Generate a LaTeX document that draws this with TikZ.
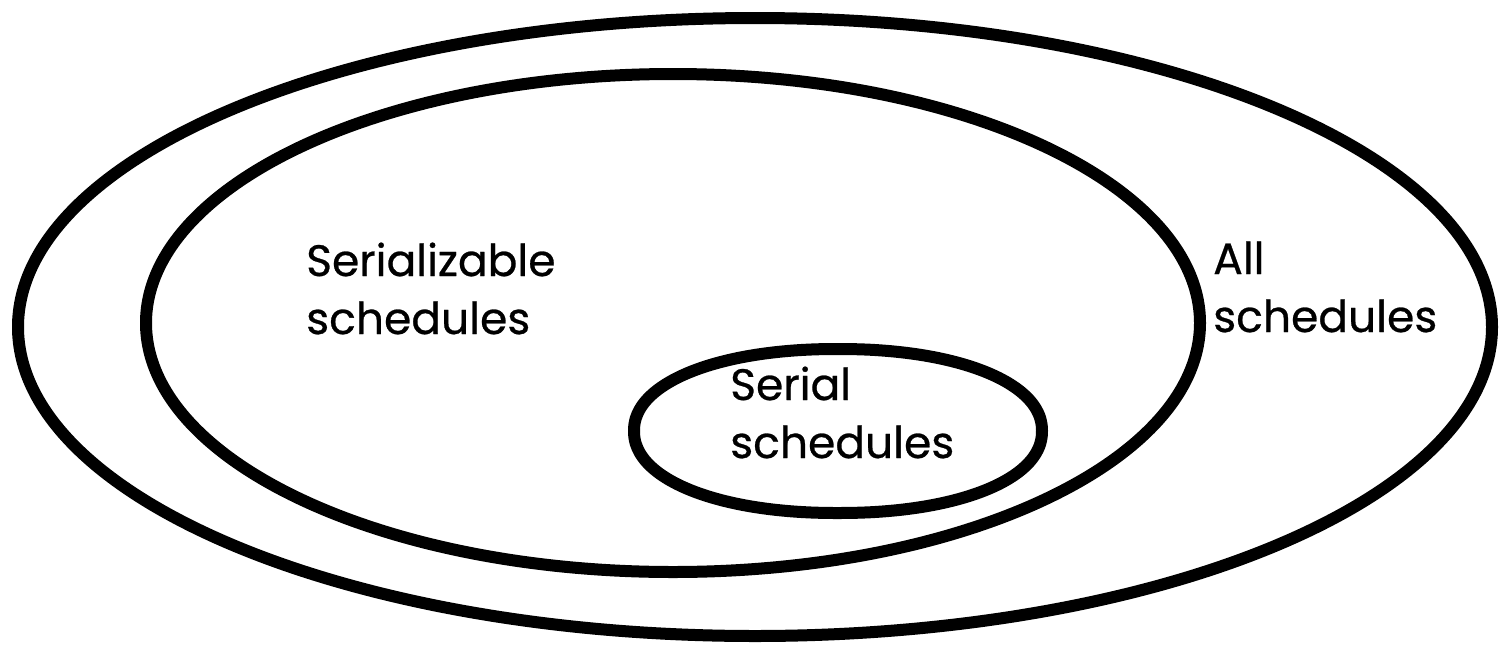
\documentclass[tikz,border=0pt]{standalone}
\usepackage{fontspec}
\setmainfont{Poppins}[FakeBold=0.6]
\begin{document}
\begin{tikzpicture}[x=1pt,y=-1pt,
  ring/.style={line width=12pt, draw=black, line join=round},
  settext/.style={anchor=base west, inner sep=0pt, align=left,
    font=\fontsize{44}{58}\selectfont}]
\useasboundingbox (0,0) rectangle (1499,654);
% nested sets of schedules
\draw[ring] (755,327) ellipse [x radius=737, y radius=309];
\draw[ring] (673,323) ellipse [x radius=527, y radius=249];
% innermost set: a slightly fuller oval
\draw[ring] plot[domain=0:360, samples=120, smooth cycle]
  ({838+204*sign(cos(\x))*abs(cos(\x))^0.94}, {431+82*sign(sin(\x))*abs(sin(\x))^0.94});
% set names (anchored at the baseline of the last line)
\node[settext] (serializable) at (306,334) {Serializable\\schedules};
\node[settext] (all) at (1213,332) {All\\schedules};
\node[settext] (serial) at (730,458) {Serial\\schedules};
\end{tikzpicture}
\end{document}
